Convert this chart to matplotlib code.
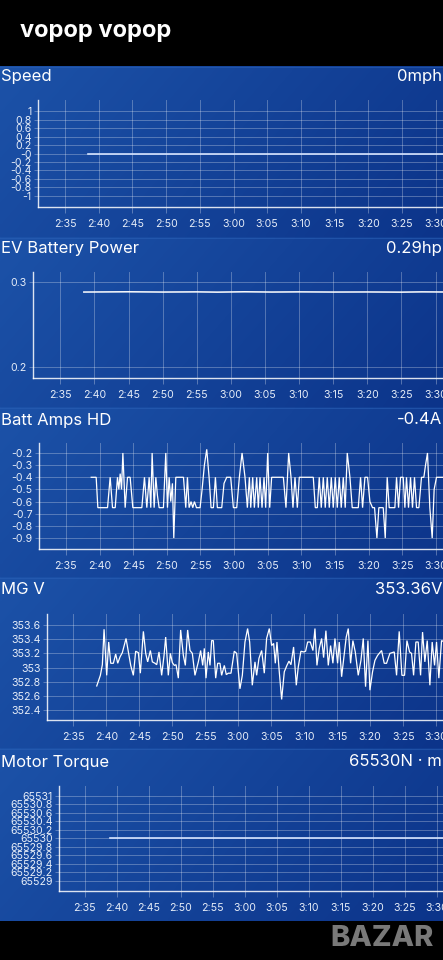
import numpy as np
import matplotlib
matplotlib.use("Agg")
import matplotlib.pyplot as plt
from matplotlib.ticker import FixedLocator, FuncFormatter

plt.rcParams['font.family'] = ['Inter', 'DejaVu Sans']

W, H = 443, 960

# time axis in minutes after 2:00
time_ticks = [35, 40, 45, 50, 55, 60, 65, 70, 75, 80, 85, 90]
x_range = (31, 93)

# Speed
speed_t = [38.4, 92.5]
speed_v = [0, 0]
speed_ticks = [1, 0.8, 0.6, 0.4, 0.2, 0, -0.2, -0.4, -0.6, -0.8, -1]
speed_labels = ['1', '0.8', '0.6', '0.4', '0.2', '-0', '-0.2', '-0.4', '-0.6', '-0.8', '-1']

# EV Battery Power
ev_t = [38.45, 45.0, 50.0, 55.0, 58.0, 62.0, 66.0, 70.0, 75.0, 80.0, 85.0, 88.0, 92.5]
ev_v = [0.2882, 0.2885, 0.2882, 0.2884, 0.2881, 0.2885, 0.2882, 0.2884, 0.2882, 0.2883, 0.2881, 0.2884, 0.2882]
ev_ticks = [0.3, 0.2]
ev_labels = ['0.3', '0.2']

# Batt Amps HD
batt_t = [38.76, 39.50, 39.75, 41.19, 41.58, 41.93, 42.33, 42.67, 42.87, 43.07, 43.27, 43.47,
          43.81, 44.16, 44.55, 44.95, 46.29, 46.68, 47.03, 47.38, 47.62, 47.82, 48.12, 48.37,
          48.61, 48.86, 49.50, 49.85, 50.10, 50.35, 50.59, 50.84, 51.04, 51.34, 52.48, 52.82,
          53.07, 53.32, 53.61, 53.86, 54.11, 54.41, 54.95, 55.25, 55.59, 55.94, 56.29, 56.58,
          56.93, 57.23, 57.52, 58.17, 58.51, 58.91, 59.50, 59.90, 60.40, 60.79, 61.19, 61.63,
          61.98, 62.28, 62.48, 62.77, 63.02, 63.37, 63.61, 63.86, 64.16, 64.46, 64.70, 65.00,
          65.30, 65.59, 65.94, 66.83, 67.33, 67.72, 68.12, 68.47, 68.76, 69.06, 69.41, 69.70,
          70.05, 71.78, 72.08, 72.38, 72.67, 72.97, 73.27, 73.56, 73.86, 74.16, 74.46, 74.75,
          75.05, 75.35, 75.64, 75.94, 76.24, 76.53, 76.83, 77.23, 77.57, 78.47, 78.81, 79.11,
          79.46, 79.85, 80.20, 80.59, 80.89, 81.24, 81.53, 81.93, 82.18, 82.48, 82.77, 83.07,
          83.91, 84.16, 84.46, 84.75, 85.15, 85.40, 85.64, 85.94, 86.24, 86.53, 86.83, 87.13,
          87.48, 87.87, 88.22, 88.47, 88.76, 89.11, 89.46, 89.75, 90.10, 92.5]
batt_v = [-0.4, -0.4, -0.65, -0.65, -0.4, -0.65, -0.65, -0.4, -0.5, -0.37, -0.5, -0.2,
          -0.65, -0.4, -0.4, -0.65, -0.65, -0.4, -0.65, -0.4, -0.65, -0.2, -0.65, -0.4,
          -0.55, -0.65, -0.65, -0.2, -0.65, -0.4, -0.6, -0.45, -0.9, -0.4, -0.4, -0.65,
          -0.4, -0.65, -0.6, -0.65, -0.6, -0.65, -0.65, -0.5, -0.3, -0.17, -0.4, -0.65,
          -0.65, -0.4, -0.65, -0.65, -0.45, -0.4, -0.4, -0.65, -0.65, -0.4, -0.2, -0.4,
          -0.65, -0.4, -0.65, -0.4, -0.65, -0.4, -0.65, -0.4, -0.65, -0.4, -0.65, -0.2,
          -0.65, -0.4, -0.4, -0.4, -0.4, -0.65, -0.2, -0.4, -0.65, -0.4, -0.65, -0.4,
          -0.4, -0.4, -0.65, -0.65, -0.4, -0.65, -0.4, -0.65, -0.4, -0.65, -0.4, -0.65,
          -0.4, -0.65, -0.4, -0.65, -0.4, -0.65, -0.2, -0.4, -0.65, -0.65, -0.4, -0.65,
          -0.4, -0.4, -0.6, -0.65, -0.65, -0.9, -0.65, -0.65, -0.65, -0.9, -0.4, -0.65,
          -0.65, -0.4, -0.65, -0.4, -0.4, -0.65, -0.4, -0.65, -0.4, -0.65, -0.4, -0.65,
          -0.65, -0.4, -0.4, -0.3, -0.2, -0.65, -0.9, -0.5, -0.4, -0.4]
batt_ticks = [-0.2, -0.3, -0.4, -0.5, -0.6, -0.7, -0.8, -0.9]
batt_labels = ['-0.2', '-0.3', '-0.4', '-0.5', '-0.6', '-0.7', '-0.8', '-0.9']

# MG V
mg_t = [38.54, 39.09, 39.39, 39.65, 40.05, 40.35, 40.66, 41.06, 41.41, 41.72, 42.07, 42.42,
        42.98, 43.33, 43.69, 44.09, 44.44, 44.85, 45.15, 45.61, 45.96, 46.26, 46.67, 46.97,
        47.37, 47.63, 47.98, 48.38, 48.74, 48.99, 49.39, 49.70, 50.00, 50.30, 50.56, 50.91,
        51.26, 51.67, 51.97, 52.32, 52.68, 53.03, 53.43, 53.94, 54.29, 54.60, 54.85, 55.10,
        55.45, 55.71, 55.96, 56.21, 56.57, 56.87, 57.22, 57.47, 57.88, 58.18, 58.48, 58.89,
        59.39, 59.75, 60.25, 60.61, 61.01, 61.41, 61.72, 62.12, 62.53, 62.78, 63.13, 63.54,
        63.94, 64.29, 64.70, 65.05, 65.35, 65.61, 65.86, 66.21, 66.57, 66.97, 67.37, 67.68,
        67.98, 68.38, 68.79, 69.09, 69.49, 69.90, 70.20, 70.51, 70.91, 71.31, 71.62, 71.92,
        72.27, 72.63, 72.93, 73.28, 73.64, 73.99, 74.34, 74.65, 75.05, 75.30, 75.66, 76.01,
        76.36, 76.67, 77.02, 77.37, 77.73, 78.18, 78.59, 78.94, 79.29, 79.65, 79.95, 80.35,
        80.71, 81.11, 81.72, 82.12, 82.47, 82.98, 83.64, 83.99, 84.39, 84.80, 85.20, 85.56,
        85.96, 86.26, 86.57, 86.92, 87.27, 87.63, 87.93, 88.28, 88.64, 89.04, 89.39, 89.75,
        90.05, 90.40, 90.81, 91.26, 92.3]
mg_v = [352.74, 352.89, 353.04, 353.54, 352.89, 353.36, 353.06, 353.06, 353.19, 353.06, 353.15, 353.21,
        353.41, 353.22, 353.03, 352.89, 353.23, 353.21, 352.92, 353.51, 353.20, 353.08, 353.24, 353.08,
        353.06, 353.04, 353.22, 352.89, 353.17, 353.43, 352.89, 353.20, 353.07, 353.03, 353.04, 352.85,
        353.53, 353.17, 353.03, 353.53, 353.24, 353.20, 352.89, 353.08, 353.24, 353.03, 353.27, 352.85,
        353.22, 353.03, 353.38, 353.38, 352.85, 353.06, 353.06, 352.89, 353.03, 352.90, 352.92, 352.92,
        353.23, 353.20, 352.70, 352.89, 353.36, 353.55, 353.36, 352.75, 353.08, 352.89, 353.13, 353.24,
        352.92, 353.41, 353.55, 353.31, 353.34, 353.06, 353.36, 352.94, 352.55, 352.94, 353.03, 353.09,
        353.04, 353.29, 352.75, 353.01, 353.23, 353.22, 353.23, 353.36, 353.36, 353.24, 353.55, 353.03,
        353.27, 353.41, 353.14, 353.52, 353.03, 353.31, 353.06, 353.41, 353.06, 353.36, 352.87, 353.15,
        353.43, 353.55, 353.06, 353.38, 353.22, 352.89, 353.10, 353.41, 352.73, 353.38, 352.68, 352.94,
        353.10, 353.17, 353.24, 353.06, 353.06, 353.20, 353.22, 352.89, 353.51, 352.89, 352.89, 353.38,
        353.22, 353.20, 352.89, 353.36, 353.36, 352.89, 353.50, 353.08, 353.38, 352.75, 353.36, 353.03,
        353.36, 352.85, 353.38, 353.36, 353.36]
mg_ticks = [353.6, 353.4, 353.2, 353.0, 352.8, 352.6, 352.4]
mg_labels = ['353.6', '353.4', '353.2', '353', '352.8', '352.6', '352.4']

# Motor Torque
tq_t = [38.97, 92.5]
tq_v = [65530, 65530]
tq_ticks = [65531, 65530.8, 65530.6, 65530.4, 65530.2, 65530, 65529.8, 65529.6, 65529.4, 65529.2, 65529]
tq_labels = ['65531', '65530.8', '65530.6', '65530.4', '65530.2', '65530',
             '65529.8', '65529.6', '65529.4', '65529.2', '65529']

titles = ['Speed', 'EV Battery Power', 'Batt Amps HD', 'MG V', 'Motor Torque']
current = ['0mph', '0.29hp', '-0.4A', '353.36V', '65530N · m']

fig = plt.figure(figsize=(W / 100, H / 100), dpi=100)
fig.patch.set_facecolor('black')

# background cards with a left-to-right gradient
bg = fig.add_axes([0, 0, 1, 1], zorder=-10)
bg.axis('off')
cards = [(66, 237), (237, 407), (407, 577), (577, 748), (748, 921)]
left_col = np.array([28, 82, 168]) / 255
right_col = np.array([12, 52, 138]) / 255
gx = np.linspace(0, 1, 200)
gy = np.linspace(0, 1, 50)
GX, GY = np.meshgrid(gx, gy)
mix = np.clip(0.75 * GX + 0.25 * GY, 0, 1)[..., None]
grad = left_col * (1 - mix) + right_col * mix
for top, bot in cards:
    bg.imshow(grad, extent=[0, W, bot, top], aspect='auto', interpolation='bilinear')
    bg.plot([0, W], [top + 0.5, top + 0.5], color='#2a5fb5', lw=0.8, alpha=0.6)
bg.set_xlim(0, W)
bg.set_ylim(H, 0)

fig.text(20 / W, 1 - 31 / H, 'vopop vopop', color='white', fontsize=17,
         fontweight='bold', va='center', ha='left')

panels = [
    (speed_t, speed_v, speed_ticks, speed_labels, (-1.26, 1.26), 38, 100, 207, '#d6e4ff', 1.2),
    (ev_t, ev_v, ev_ticks, ev_labels, (0.187, 0.3118), 33, 272, 378, 'white', 1.1),
    (batt_t, batt_v, batt_ticks, batt_labels, (-0.99, -0.118), 39, 443, 549, 'white', 0.9),
    (mg_t, mg_v, mg_ticks, mg_labels, (352.26, 353.755), 47, 614, 720, 'white', 0.9),
    (tq_t, tq_v, tq_ticks, tq_labels, (65528.76, 65531.235), 59, 786, 891, '#d6e4ff', 1.2),
]
title_y = [77, 249, 420, 590, 762]
right_px = 456
grid_col = (1, 1, 1, 0.3)

for i, (t, v, yt, yl, ylim, l, top, bot, lc, lw) in enumerate(panels):
    ax = fig.add_axes([l / W, 1 - bot / H, (right_px - l) / W, (bot - top) / H])
    ax.set_facecolor('none')
    ax.plot(t, v, color=lc, lw=lw, solid_joinstyle='miter', zorder=3)
    ax.set_xlim(*x_range)
    ax.set_ylim(*ylim)
    ax.xaxis.set_major_locator(FixedLocator(time_ticks))
    ax.xaxis.set_major_formatter(FuncFormatter(lambda m, p: f"{int(m) // 60 + 2}:{int(m) % 60:02d}"))
    ax.set_yticks(yt)
    ax.set_yticklabels(yl)
    ax.grid(True, color='white', alpha=0.28, lw=0.7)
    for s in ['top', 'right']:
        ax.spines[s].set_visible(False)
    for s in ['left', 'bottom']:
        ax.spines[s].set_color((1, 1, 1, 0.85))
        ax.spines[s].set_linewidth(1.0)
    ax.tick_params(axis='x', colors=grid_col, labelcolor='#e6edf8', labelsize=7.6,
                   length=4, width=0.7, pad=4.5)
    ax.tick_params(axis='y', colors=grid_col, labelcolor='#e6edf8', labelsize=7.6,
                   length=3, width=0.7, pad=1.5)

    fig.text(1 / W, 1 - title_y[i] / H, titles[i], color='white', fontsize=12,
             va='center', ha='left')
    if i == 4:
        fig.text(349 / W, 1 - title_y[i] / H, current[i], color='white', fontsize=12,
                 va='center', ha='left')
    else:
        fig.text(442 / W, 1 - title_y[i] / H, current[i], color='white', fontsize=12,
                 va='center', ha='right')

fig.text(382 / W, 1 - 938 / H, 'BAZAR', color='#808080', fontsize=21, fontweight='heavy',
         va='center', ha='center', alpha=0.95)

fig.savefig('out.png', dpi=100, facecolor='black')
